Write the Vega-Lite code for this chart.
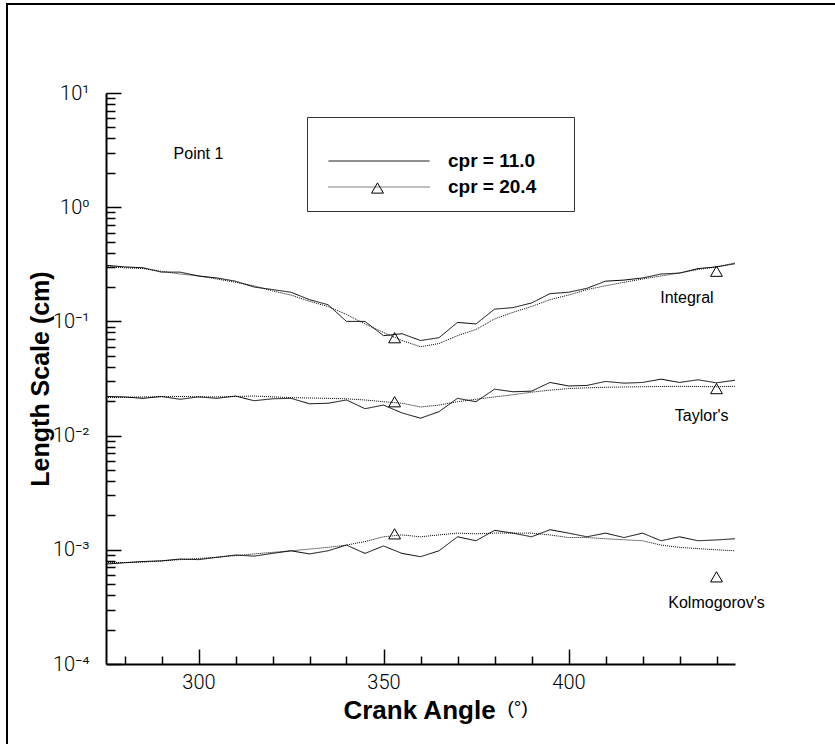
{
  "$schema": "https://vega.github.io/schema/vega-lite/v6.json",
  "width": 834,
  "height": 746,
  "autosize": "none",
  "padding": {"left": 7, "top": 4, "right": -6, "bottom": -6},
  "background": "white",
  "config": {
    "view": {"stroke": "black", "strokeWidth": 2},
    "axis": {"grid": false, "domainColor": "black", "tickColor": "black", "labelColor": "black", "titleColor": "black", "labelFlush": false, "labelOverlap": false, "labelBound": false}
  },
  "datasets": {
    "curves": [
      {"x":275,"y":0.31,"g":"I","s":"cpr = 11.0"},{"x":280,"y":0.30,"g":"I","s":"cpr = 11.0"},{"x":285,"y":0.295,"g":"I","s":"cpr = 11.0"},{"x":290,"y":0.27,"g":"I","s":"cpr = 11.0"},{"x":295,"y":0.27,"g":"I","s":"cpr = 11.0"},{"x":300,"y":0.25,"g":"I","s":"cpr = 11.0"},{"x":305,"y":0.24,"g":"I","s":"cpr = 11.0"},{"x":310,"y":0.225,"g":"I","s":"cpr = 11.0"},{"x":315,"y":0.20,"g":"I","s":"cpr = 11.0"},{"x":320,"y":0.19,"g":"I","s":"cpr = 11.0"},{"x":325,"y":0.18,"g":"I","s":"cpr = 11.0"},{"x":330,"y":0.155,"g":"I","s":"cpr = 11.0"},{"x":335,"y":0.14,"g":"I","s":"cpr = 11.0"},{"x":340,"y":0.10,"g":"I","s":"cpr = 11.0"},{"x":345,"y":0.10,"g":"I","s":"cpr = 11.0"},{"x":350,"y":0.075,"g":"I","s":"cpr = 11.0"},{"x":355,"y":0.078,"g":"I","s":"cpr = 11.0"},{"x":360,"y":0.068,"g":"I","s":"cpr = 11.0"},{"x":365,"y":0.072,"g":"I","s":"cpr = 11.0"},{"x":370,"y":0.098,"g":"I","s":"cpr = 11.0"},{"x":375,"y":0.095,"g":"I","s":"cpr = 11.0"},{"x":380,"y":0.128,"g":"I","s":"cpr = 11.0"},{"x":385,"y":0.132,"g":"I","s":"cpr = 11.0"},{"x":390,"y":0.145,"g":"I","s":"cpr = 11.0"},{"x":395,"y":0.175,"g":"I","s":"cpr = 11.0"},{"x":400,"y":0.18,"g":"I","s":"cpr = 11.0"},{"x":405,"y":0.195,"g":"I","s":"cpr = 11.0"},{"x":410,"y":0.225,"g":"I","s":"cpr = 11.0"},{"x":415,"y":0.23,"g":"I","s":"cpr = 11.0"},{"x":420,"y":0.24,"g":"I","s":"cpr = 11.0"},{"x":425,"y":0.26,"g":"I","s":"cpr = 11.0"},{"x":430,"y":0.265,"g":"I","s":"cpr = 11.0"},{"x":435,"y":0.29,"g":"I","s":"cpr = 11.0"},{"x":440,"y":0.30,"g":"I","s":"cpr = 11.0"},{"x":445,"y":0.32,"g":"I","s":"cpr = 11.0"},
      {"x":275,"y":0.30,"g":"I","s":"cpr = 20.4"},{"x":280,"y":0.295,"g":"I","s":"cpr = 20.4"},{"x":285,"y":0.29,"g":"I","s":"cpr = 20.4"},{"x":290,"y":0.275,"g":"I","s":"cpr = 20.4"},{"x":295,"y":0.26,"g":"I","s":"cpr = 20.4"},{"x":300,"y":0.25,"g":"I","s":"cpr = 20.4"},{"x":305,"y":0.235,"g":"I","s":"cpr = 20.4"},{"x":310,"y":0.22,"g":"I","s":"cpr = 20.4"},{"x":315,"y":0.205,"g":"I","s":"cpr = 20.4"},{"x":320,"y":0.185,"g":"I","s":"cpr = 20.4"},{"x":325,"y":0.17,"g":"I","s":"cpr = 20.4"},{"x":330,"y":0.15,"g":"I","s":"cpr = 20.4"},{"x":335,"y":0.135,"g":"I","s":"cpr = 20.4"},{"x":340,"y":0.115,"g":"I","s":"cpr = 20.4"},{"x":345,"y":0.095,"g":"I","s":"cpr = 20.4"},{"x":350,"y":0.08,"g":"I","s":"cpr = 20.4"},{"x":355,"y":0.068,"g":"I","s":"cpr = 20.4"},{"x":360,"y":0.06,"g":"I","s":"cpr = 20.4"},{"x":365,"y":0.064,"g":"I","s":"cpr = 20.4"},{"x":370,"y":0.075,"g":"I","s":"cpr = 20.4"},{"x":375,"y":0.085,"g":"I","s":"cpr = 20.4"},{"x":380,"y":0.105,"g":"I","s":"cpr = 20.4"},{"x":385,"y":0.12,"g":"I","s":"cpr = 20.4"},{"x":390,"y":0.135,"g":"I","s":"cpr = 20.4"},{"x":395,"y":0.155,"g":"I","s":"cpr = 20.4"},{"x":400,"y":0.17,"g":"I","s":"cpr = 20.4"},{"x":405,"y":0.19,"g":"I","s":"cpr = 20.4"},{"x":410,"y":0.205,"g":"I","s":"cpr = 20.4"},{"x":415,"y":0.22,"g":"I","s":"cpr = 20.4"},{"x":420,"y":0.235,"g":"I","s":"cpr = 20.4"},{"x":425,"y":0.25,"g":"I","s":"cpr = 20.4"},{"x":430,"y":0.265,"g":"I","s":"cpr = 20.4"},{"x":435,"y":0.285,"g":"I","s":"cpr = 20.4"},{"x":440,"y":0.30,"g":"I","s":"cpr = 20.4"},{"x":445,"y":0.325,"g":"I","s":"cpr = 20.4"},
      {"x":275,"y":0.022,"g":"T","s":"cpr = 11.0"},{"x":280,"y":0.0218,"g":"T","s":"cpr = 11.0"},{"x":285,"y":0.0212,"g":"T","s":"cpr = 11.0"},{"x":290,"y":0.022,"g":"T","s":"cpr = 11.0"},{"x":295,"y":0.0208,"g":"T","s":"cpr = 11.0"},{"x":300,"y":0.0218,"g":"T","s":"cpr = 11.0"},{"x":305,"y":0.0212,"g":"T","s":"cpr = 11.0"},{"x":310,"y":0.0222,"g":"T","s":"cpr = 11.0"},{"x":315,"y":0.0202,"g":"T","s":"cpr = 11.0"},{"x":320,"y":0.021,"g":"T","s":"cpr = 11.0"},{"x":325,"y":0.0212,"g":"T","s":"cpr = 11.0"},{"x":330,"y":0.019,"g":"T","s":"cpr = 11.0"},{"x":335,"y":0.0192,"g":"T","s":"cpr = 11.0"},{"x":340,"y":0.0205,"g":"T","s":"cpr = 11.0"},{"x":345,"y":0.0172,"g":"T","s":"cpr = 11.0"},{"x":350,"y":0.0185,"g":"T","s":"cpr = 11.0"},{"x":355,"y":0.0158,"g":"T","s":"cpr = 11.0"},{"x":360,"y":0.0142,"g":"T","s":"cpr = 11.0"},{"x":365,"y":0.0162,"g":"T","s":"cpr = 11.0"},{"x":370,"y":0.0212,"g":"T","s":"cpr = 11.0"},{"x":375,"y":0.0198,"g":"T","s":"cpr = 11.0"},{"x":380,"y":0.0255,"g":"T","s":"cpr = 11.0"},{"x":385,"y":0.0242,"g":"T","s":"cpr = 11.0"},{"x":390,"y":0.0245,"g":"T","s":"cpr = 11.0"},{"x":395,"y":0.0292,"g":"T","s":"cpr = 11.0"},{"x":400,"y":0.0272,"g":"T","s":"cpr = 11.0"},{"x":405,"y":0.0275,"g":"T","s":"cpr = 11.0"},{"x":410,"y":0.0298,"g":"T","s":"cpr = 11.0"},{"x":415,"y":0.0288,"g":"T","s":"cpr = 11.0"},{"x":420,"y":0.0292,"g":"T","s":"cpr = 11.0"},{"x":425,"y":0.0312,"g":"T","s":"cpr = 11.0"},{"x":430,"y":0.0292,"g":"T","s":"cpr = 11.0"},{"x":435,"y":0.0308,"g":"T","s":"cpr = 11.0"},{"x":440,"y":0.029,"g":"T","s":"cpr = 11.0"},{"x":445,"y":0.0305,"g":"T","s":"cpr = 11.0"},
      {"x":275,"y":0.0215,"g":"T","s":"cpr = 20.4"},{"x":285,"y":0.0218,"g":"T","s":"cpr = 20.4"},{"x":295,"y":0.022,"g":"T","s":"cpr = 20.4"},{"x":305,"y":0.0218,"g":"T","s":"cpr = 20.4"},{"x":315,"y":0.0222,"g":"T","s":"cpr = 20.4"},{"x":325,"y":0.0215,"g":"T","s":"cpr = 20.4"},{"x":335,"y":0.0212,"g":"T","s":"cpr = 20.4"},{"x":340,"y":0.021,"g":"T","s":"cpr = 20.4"},{"x":345,"y":0.0205,"g":"T","s":"cpr = 20.4"},{"x":350,"y":0.0198,"g":"T","s":"cpr = 20.4"},{"x":355,"y":0.0192,"g":"T","s":"cpr = 20.4"},{"x":360,"y":0.0178,"g":"T","s":"cpr = 20.4"},{"x":365,"y":0.0185,"g":"T","s":"cpr = 20.4"},{"x":370,"y":0.0198,"g":"T","s":"cpr = 20.4"},{"x":375,"y":0.0208,"g":"T","s":"cpr = 20.4"},{"x":380,"y":0.0218,"g":"T","s":"cpr = 20.4"},{"x":385,"y":0.0228,"g":"T","s":"cpr = 20.4"},{"x":390,"y":0.024,"g":"T","s":"cpr = 20.4"},{"x":395,"y":0.025,"g":"T","s":"cpr = 20.4"},{"x":400,"y":0.0258,"g":"T","s":"cpr = 20.4"},{"x":405,"y":0.0262,"g":"T","s":"cpr = 20.4"},{"x":410,"y":0.0265,"g":"T","s":"cpr = 20.4"},{"x":420,"y":0.0268,"g":"T","s":"cpr = 20.4"},{"x":430,"y":0.027,"g":"T","s":"cpr = 20.4"},{"x":440,"y":0.0268,"g":"T","s":"cpr = 20.4"},{"x":445,"y":0.027,"g":"T","s":"cpr = 20.4"},
      {"x":275,"y":0.00075,"g":"K","s":"cpr = 11.0"},{"x":280,"y":0.00077,"g":"K","s":"cpr = 11.0"},{"x":285,"y":0.00079,"g":"K","s":"cpr = 11.0"},{"x":290,"y":0.0008,"g":"K","s":"cpr = 11.0"},{"x":295,"y":0.00083,"g":"K","s":"cpr = 11.0"},{"x":300,"y":0.00082,"g":"K","s":"cpr = 11.0"},{"x":305,"y":0.00086,"g":"K","s":"cpr = 11.0"},{"x":310,"y":0.0009,"g":"K","s":"cpr = 11.0"},{"x":315,"y":0.00088,"g":"K","s":"cpr = 11.0"},{"x":320,"y":0.00093,"g":"K","s":"cpr = 11.0"},{"x":325,"y":0.00098,"g":"K","s":"cpr = 11.0"},{"x":330,"y":0.00092,"g":"K","s":"cpr = 11.0"},{"x":335,"y":0.00098,"g":"K","s":"cpr = 11.0"},{"x":340,"y":0.0011,"g":"K","s":"cpr = 11.0"},{"x":345,"y":0.00093,"g":"K","s":"cpr = 11.0"},{"x":350,"y":0.00108,"g":"K","s":"cpr = 11.0"},{"x":355,"y":0.00093,"g":"K","s":"cpr = 11.0"},{"x":360,"y":0.00087,"g":"K","s":"cpr = 11.0"},{"x":365,"y":0.00098,"g":"K","s":"cpr = 11.0"},{"x":370,"y":0.0013,"g":"K","s":"cpr = 11.0"},{"x":375,"y":0.0012,"g":"K","s":"cpr = 11.0"},{"x":380,"y":0.00148,"g":"K","s":"cpr = 11.0"},{"x":385,"y":0.0014,"g":"K","s":"cpr = 11.0"},{"x":390,"y":0.0013,"g":"K","s":"cpr = 11.0"},{"x":395,"y":0.0015,"g":"K","s":"cpr = 11.0"},{"x":400,"y":0.0014,"g":"K","s":"cpr = 11.0"},{"x":405,"y":0.0013,"g":"K","s":"cpr = 11.0"},{"x":410,"y":0.0014,"g":"K","s":"cpr = 11.0"},{"x":415,"y":0.00128,"g":"K","s":"cpr = 11.0"},{"x":420,"y":0.0014,"g":"K","s":"cpr = 11.0"},{"x":425,"y":0.0012,"g":"K","s":"cpr = 11.0"},{"x":430,"y":0.0013,"g":"K","s":"cpr = 11.0"},{"x":435,"y":0.0012,"g":"K","s":"cpr = 11.0"},{"x":440,"y":0.00122,"g":"K","s":"cpr = 11.0"},{"x":445,"y":0.00125,"g":"K","s":"cpr = 11.0"},
      {"x":275,"y":0.00077,"g":"K","s":"cpr = 20.4"},{"x":285,"y":0.00078,"g":"K","s":"cpr = 20.4"},{"x":295,"y":0.00082,"g":"K","s":"cpr = 20.4"},{"x":305,"y":0.00086,"g":"K","s":"cpr = 20.4"},{"x":315,"y":0.00092,"g":"K","s":"cpr = 20.4"},{"x":325,"y":0.00098,"g":"K","s":"cpr = 20.4"},{"x":335,"y":0.00105,"g":"K","s":"cpr = 20.4"},{"x":340,"y":0.0011,"g":"K","s":"cpr = 20.4"},{"x":345,"y":0.00118,"g":"K","s":"cpr = 20.4"},{"x":350,"y":0.0013,"g":"K","s":"cpr = 20.4"},{"x":355,"y":0.00135,"g":"K","s":"cpr = 20.4"},{"x":360,"y":0.0013,"g":"K","s":"cpr = 20.4"},{"x":365,"y":0.00135,"g":"K","s":"cpr = 20.4"},{"x":370,"y":0.0014,"g":"K","s":"cpr = 20.4"},{"x":375,"y":0.00138,"g":"K","s":"cpr = 20.4"},{"x":380,"y":0.0014,"g":"K","s":"cpr = 20.4"},{"x":390,"y":0.0014,"g":"K","s":"cpr = 20.4"},{"x":395,"y":0.00135,"g":"K","s":"cpr = 20.4"},{"x":400,"y":0.00128,"g":"K","s":"cpr = 20.4"},{"x":405,"y":0.00128,"g":"K","s":"cpr = 20.4"},{"x":410,"y":0.00125,"g":"K","s":"cpr = 20.4"},{"x":420,"y":0.0012,"g":"K","s":"cpr = 20.4"},{"x":425,"y":0.0011,"g":"K","s":"cpr = 20.4"},{"x":430,"y":0.00105,"g":"K","s":"cpr = 20.4"},{"x":440,"y":0.001,"g":"K","s":"cpr = 20.4"},{"x":445,"y":0.00098,"g":"K","s":"cpr = 20.4"}
    ],
    "markers": [
      {"x":353,"y":0.072,"m":"cpr = 20.4"},{"x":440,"y":0.275,"m":"cpr = 20.4"},
      {"x":353,"y":0.0198,"m":"cpr = 20.4"},{"x":440,"y":0.0258,"m":"cpr = 20.4"},
      {"x":353,"y":0.00138,"m":"cpr = 20.4"},{"x":440,"y":0.00058,"m":"cpr = 20.4"}
    ],
    "labels": [
      {"x":300,"y":2.9,"t":"Point 1"},
      {"x":432,"y":0.16,"t":"Integral"},
      {"x":436,"y":0.0148,"t":"Taylor's"},
      {"x":440,"y":0.00034,"t":"Kolmogorov's"}
    ]
  },
  "layer": [
    {
      "data": {"name": "curves"},
      "mark": {"type": "line", "strokeWidth": 1, "color": "black"},
      "encoding": {
        "x": {"field": "x", "type": "quantitative",
          "scale": {"domain": [275, 445], "range": [99, 728], "nice": false, "zero": false},
          "axis": {"orient": "bottom", "offset": -86, "values": [300, 350, 400], "tickSize": -15, "tickWidth": 1.5, "labels": false, "domain": true, "domainWidth": 2,
            "title": "Crank Angle", "titleFont": "Liberation Sans", "titleFontWeight": "bold", "titleFontSize": 26, "titleX": 412, "titleY": 54, "titleBaseline": "alphabetic", "titleAlign": "center", "titleAngle": 0}},
        "y": {"field": "y", "type": "quantitative",
          "scale": {"type": "log", "domain": [0.0001, 10], "range": [660, 89], "nice": false},
          "axis": {"orient": "left", "offset": -99, "values": [0.0001, 0.001, 0.01, 0.1, 1, 10], "tickSize": -15, "tickWidth": 1.5, "labels": false, "domain": true, "domainWidth": 2,
            "title": "Length Scale (cm)", "titleFont": "Liberation Sans", "titleFontWeight": "bold", "titleFontSize": 25, "titleX": -58, "titleY": 374.5, "titleBaseline": "alphabetic", "titleAlign": "center", "titleAngle": 270}},
        "detail": {"field": "g"},
        "strokeDash": {"field": "s", "type": "nominal",
          "scale": {"domain": ["cpr = 11.0", "cpr = 20.4"], "range": [[1, 0], [1, 1]]},
          "legend": {
            "orient": "none", "legendX": 300, "legendY": 113,
            "title": "\u00a0\u00a0\u00a0\u00a0\u00a0\u00a0\u00a0\u00a0\u00a0\u00a0",
            "titleFontSize": 14, "titlePadding": 6, "titleLimit": 500,
            "padding": 11, "strokeColor": "#333333",
            "symbolSize": 10201, "clipHeight": 26, "rowPadding": 0,
            "symbolOffset": 10, "labelOffset": 18,
            "symbolStrokeWidth": 1, "symbolStrokeColor": "black", "symbolType": "stroke",
            "labelFont": "Liberation Sans", "labelFontWeight": "bold", "labelFontSize": 19, "labelColor": "black", "labelLimit": 300,
            "labelExpr": "datum.label + '\u00a0\u00a0\u00a0\u00a0\u00a0\u200b'"
          }
        }
      }
    },
    {
      "data": {"name": "markers"},
      "mark": {"type": "point", "filled": false, "size": 140, "color": "black", "strokeWidth": 1, "opacity": 1},
      "encoding": {
        "x": {"field": "x", "type": "quantitative",
          "scale": {"domain": [275, 445], "range": [99, 728], "nice": false, "zero": false},
          "axis": {"orient": "bottom", "offset": -86, "values": [280, 290, 310, 320, 330, 340, 360, 370, 380, 390, 410, 420, 430, 440], "tickSize": -8, "tickWidth": 1.5, "labels": false, "domain": false,
            "title": "(°)", "titleFont": "Liberation Sans", "titleFontWeight": "normal", "titleFontSize": 19, "titleX": 500, "titleY": 49, "titleBaseline": "alphabetic", "titleAlign": "left", "titleAngle": 0}},
        "y": {"field": "y", "type": "quantitative",
          "scale": {"type": "log", "domain": [0.0001, 10], "range": [660, 89], "nice": false},
          "axis": {"orient": "left", "offset": -99, "values": [0.0002,0.0003,0.0004,0.0005,0.0006,0.0007,0.0008,0.0009,0.002,0.003,0.004,0.005,0.006,0.007,0.008,0.009,0.02,0.03,0.04,0.05,0.06,0.07,0.08,0.09,0.2,0.3,0.4,0.5,0.6,0.7,0.8,0.9,2,3,4,5,6,7,8,9], "tickSize": -9, "tickWidth": 1.5, "labels": false, "domain": false, "title": null}},
        "shape": {"field": "m", "type": "nominal",
          "scale": {"domain": ["cpr = 20.4"], "range": ["triangle-up"]},
          "legend": {
            "orient": "none", "legendX": 364, "legendY": 178,
            "title": null, "padding": 0, "strokeColor": null,
            "symbolSize": 140, "clipHeight": 12, "symbolOffset": 0,
            "symbolStrokeWidth": 1, "symbolStrokeColor": "black", "symbolFillColor": "white",
            "labelExpr": "''", "labelFontSize": 1, "labelOffset": 0
          }
        }
      }
    },
    {
      "data": {"name": "labels"},
      "mark": {"type": "text", "font": "Liberation Sans", "fontSize": 16, "align": "center", "baseline": "middle", "color": "black"},
      "encoding": {
        "x": {"field": "x", "type": "quantitative",
          "scale": {"domain": [275, 445], "range": [99, 728], "nice": false, "zero": false},
          "axis": {"orient": "bottom", "offset": -86, "values": [300, 350, 400], "ticks": false, "domain": false, "labels": true, "labelPadding": 8, "labelFont": "Roboto", "labelFontWeight": 300, "labelFontSize": 20, "title": null}},
        "y": {"field": "y", "type": "quantitative",
          "scale": {"type": "log", "domain": [0.0001, 10], "range": [660, 89], "nice": false},
          "axis": {"orient": "left", "offset": -99, "values": [0.0001, 0.001, 0.01, 0.1, 1, 10], "ticks": false, "domain": false, "labels": true, "labelPadding": 17, "labelFont": "Roboto", "labelFontWeight": 300, "labelFontSize": 20,
            "labelExpr": "'10' + ['⁻⁴','⁻³','⁻²','⁻¹','⁰','¹'][round(log(datum.value)/LN10) + 4]", "title": null}},
        "text": {"field": "t"}
      }
    }
  ],
  "resolve": {"axis": {"x": "independent", "y": "independent"}}
}
